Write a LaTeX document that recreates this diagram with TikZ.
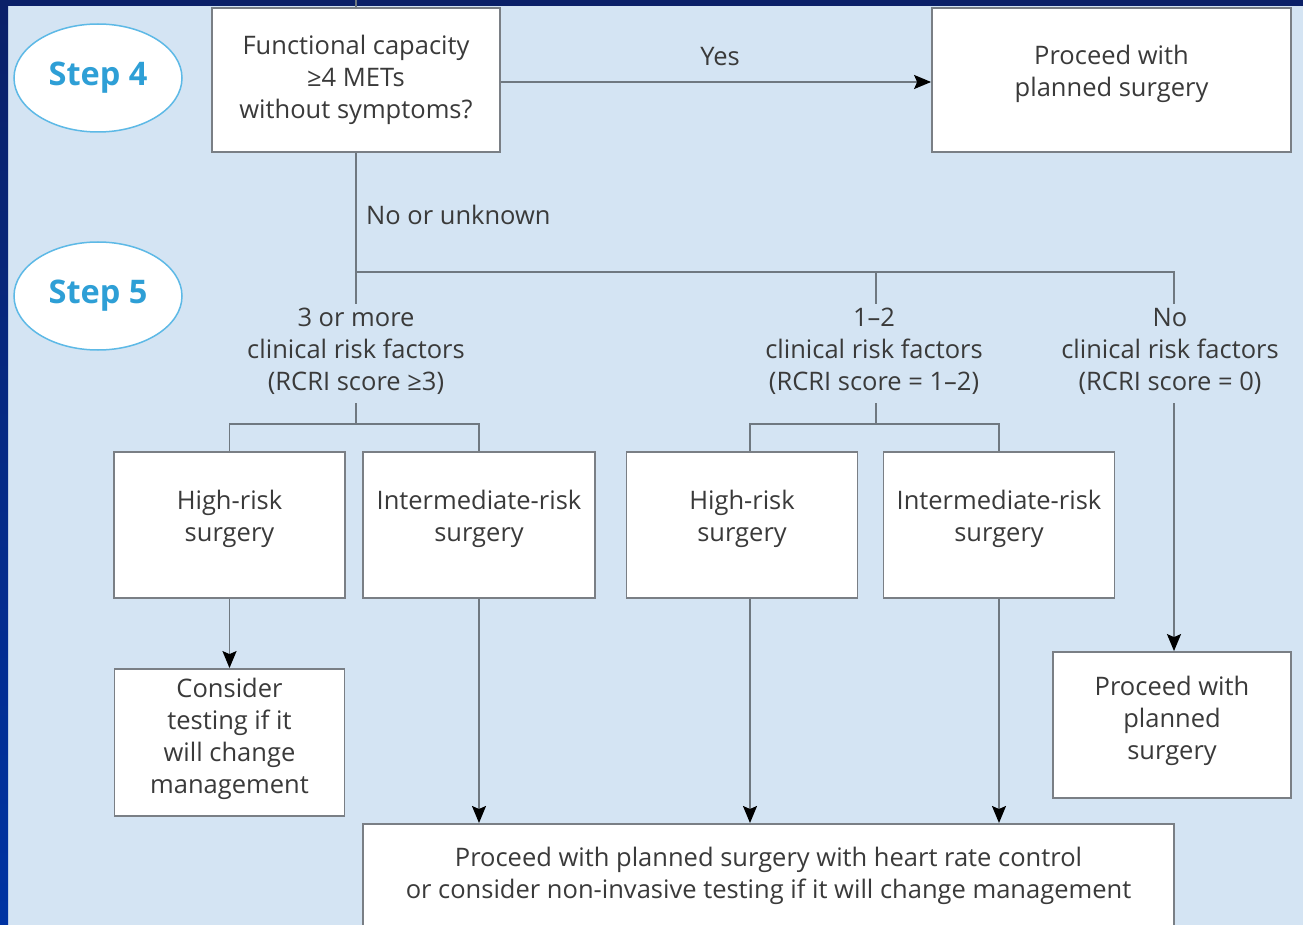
\documentclass[tikz,border=0pt]{standalone}
\usepackage{fontspec}
\setmainfont{Open Sans}
\usetikzlibrary{shapes.geometric,arrows.meta}
\definecolor{bgblue}{HTML}{D4E4F3}
\definecolor{navy}{HTML}{0B2068}
\definecolor{royal}{HTML}{0033A3}
\definecolor{stepblue}{HTML}{2E9FD6}
\definecolor{ellline}{HTML}{5DB9E6}
\definecolor{txt}{HTML}{3A3A3A}
\definecolor{linegray}{HTML}{6F7880}
\definecolor{boxgray}{HTML}{7A7F85}
\tikzset{
  every node/.style={text=txt, font=\fontsize{25.5}{32}\selectfont},
  box/.style={draw=boxgray, line width=1.8pt, fill=white, rectangle, align=center, inner sep=0pt},
  stepell/.style={ellipse, draw=ellline, line width=1.5pt, fill=white, minimum width=168pt, minimum height=108pt, text=stepblue, font=\fontsize{32.5}{36}\selectfont\bfseries},
  lab/.style={align=center, inner sep=0pt},
  conn/.style={draw=linegray, line width=1.8pt},
  arr/.style={conn, -{Stealth[length=17pt,width=14pt,inset=3pt,fill=black,color=black]}},
}
\begin{document}
\begin{tikzpicture}[x=1pt,y=-1pt]
\useasboundingbox (0,0) rectangle (1303,925);
\fill[bgblue] (0,0) rectangle (1303,925);
\shade[top color=navy, bottom color=royal] (0,0) rectangle (8,925);
\fill[navy] (0,0) rectangle (1303,6);

% steps
\node[stepell] (s4) at (98,78) {Step 4};
\node[stepell] (s5) at (98,296) {Step 5};

% boxes
\node[box, minimum width=288pt, minimum height=144pt] (fc) at (356,80) {Functional capacity\\≥4 METs\\without symptoms?};
\node[box, minimum width=359pt, minimum height=144pt, text depth=18pt] (pt) at (1111.5,80) {Proceed with\\planned surgery};
\node[box, minimum width=231pt, minimum height=146pt, text depth=18pt] (hr1) at (229.5,525) {High-risk\\surgery};
\node[box, minimum width=232pt, minimum height=146pt, text depth=18pt] (ir1) at (479,525) {Intermediate-risk\\surgery};
\node[box, minimum width=231pt, minimum height=146pt, text depth=18pt] (hr2) at (742,525) {High-risk\\surgery};
\node[box, minimum width=231pt, minimum height=146pt, text depth=18pt] (ir2) at (999,525) {Intermediate-risk\\surgery};
\node[box, minimum width=230pt, minimum height=147pt, text depth=14pt] (ct) at (229.5,742.5) {Consider\\testing if it\\will change\\management};
\node[box, minimum width=238pt, minimum height=146pt, text depth=14pt] (pp) at (1172,725) {Proceed with\\planned\\surgery};
\node[box, minimum width=811pt, minimum height=130pt, anchor=north] (bot) at (768.5,823) {};
\node[lab, anchor=north] (bottxt) at ([yshift=-24pt]bot.north) {Proceed with planned surgery with heart rate control\\or consider non-invasive testing if it will change management};

% labels
\node[lab] (yes) at (720,57) {Yes};
\node[lab, anchor=west] (nou) at (366,215) {No or unknown};
\node[lab] (l1) at (356,351) {3 or more\\clinical risk factors\\(RCRI score ≥3)};
\node[lab] (l2) at (874,351) {1–2\\clinical risk factors\\(RCRI score = 1–2)};
\node[lab] (l3) at (1170,351) {No\\clinical risk factors\\(RCRI score = 0)};

% connectors
\coordinate (top) at (356,0);
\coordinate (j1) at (356,272);
\coordinate (b1) at (356,424);
\coordinate (b2) at (876,424);
\draw[conn] (top) -- (fc.north);
\draw[arr] (fc.east |- 0,82) -- (pt.west |- 0,82);
\draw[conn] (fc.south) -- (j1) -- ([yshift=4pt]l1.north -| j1);
\draw[conn] (j1) -| ([yshift=4pt]l2.north -| b2);
\draw[conn] (j1) -| ([yshift=4pt]l3.north -| 1174,0);
\draw[conn] ([yshift=-9pt]l1.south -| b1) -- (b1);
\draw[conn] (b1) -| (hr1.north);
\draw[conn] (b1) -| (ir1.north);
\draw[conn] ([yshift=-9pt]l2.south -| b2) -- (b2);
\draw[conn] (b2) -| ([xshift=8pt]hr2.north);
\draw[conn] (b2) -| (ir2.north);
\draw[arr] ([yshift=-9pt]l3.south -| 1174,0) -- (pp.north -| 1174,0);
\draw[arr] (hr1.south) -- (ct.north);
\draw[arr] (ir1.south) -- (ir1.south |- bot.north);
\draw[arr] ([xshift=8pt]hr2.south) -- ([xshift=8pt]hr2.south |- bot.north);
\draw[arr] (ir2.south) -- (ir2.south |- bot.north);
\end{tikzpicture}
\end{document}
